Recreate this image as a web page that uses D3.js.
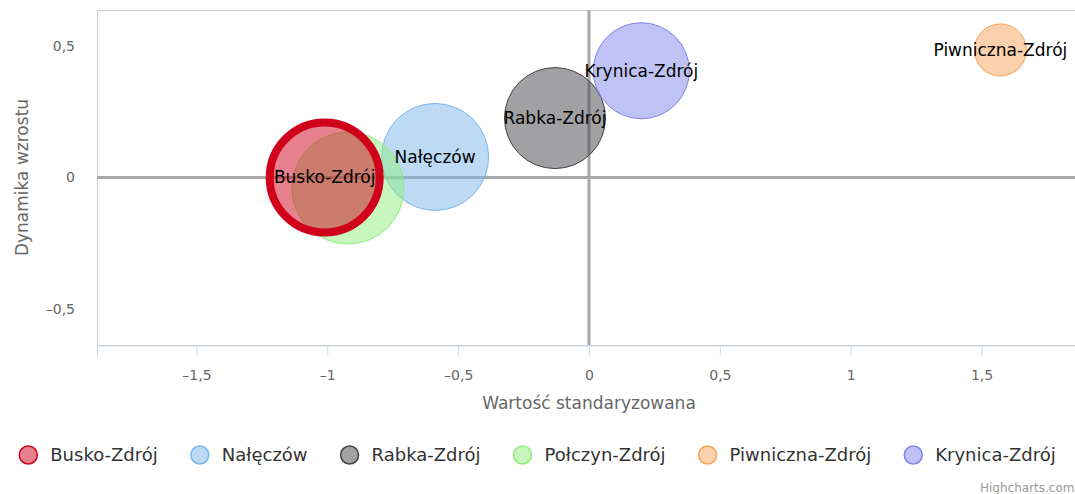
<!DOCTYPE html>
<html>
<head>
<meta charset="utf-8">
<script src="https://d3js.org/d3.v7.min.js"></script>
<style>
  body { margin: 0; background: #fff; }
  svg { display: block; font-family: "DejaVu Sans", Verdana, sans-serif; }
</style>
</head>
<body>
<svg id="chart"></svg>
<script>
// ----------------------------------------
//  Data
// ----------------------------------------

var names   = ['Busko-Zdrój', 'Nałęczów', 'Rabka-Zdrój', 'Połczyn-Zdrój', 'Piwniczna-Zdrój', 'Krynica-Zdrój'];
var xValues = [-1.01, -0.588, -0.130, -0.921, 1.572, 0.20];
var yValues = [0.0, 0.078, 0.226, -0.040, 0.485, 0.406];
var zValues = [96.5, 91.3, 81.3, 100, 21.6, 73.5];
var colors  = ['#d0021b', '#7cb5ec', '#434348', '#90ed7d', '#f7a35c', '#8085e9'];
// Połczyn label is hidden under Busko in the original (overlap), so no label for it
var showLabel = [true, true, true, false, true, true];

var xTicks = [-1.5, -1, -0.5, 0, 0.5, 1, 1.5];
var yTicks = [-0.5, 0, 0.5];

var points = names.map(function(n, i) {
  return { name: n, x: xValues[i], y: yValues[i], z: zValues[i], color: colors[i], idx: i, label: showLabel[i] };
});

// ----------------------------------------
//  Sizing
// ----------------------------------------

var width = 1075, height = 494;
var plot = { left: 97, top: 10, right: 1081, bottom: 345 };

var svg = d3.select('#chart').attr('width', width).attr('height', height);

var x = d3.scaleLinear().domain([-1.88, 1.88]).range([plot.left, plot.right]);
var y = d3.scaleLinear().domain([-0.637, 0.637]).range([plot.bottom, plot.top]);
var r = d3.scaleSqrt().domain([0, 100]).range([0, 56]);

function fmt(v) {
  // polish decimal comma, dash for negatives
  var s = String(Math.abs(v)).replace('.', ',');
  return v < 0 ? '\u2013' + s : s;
}

// ----------------------------------------
//  Plot frame + zero lines
// ----------------------------------------

svg.append('rect')
  .attr('x', plot.left + 0.5).attr('y', plot.top + 0.5)
  .attr('width', plot.right - plot.left).attr('height', plot.bottom - plot.top)
  .attr('fill', 'none').attr('stroke', '#cccccc');

svg.append('line')
  .attr('x1', plot.left).attr('x2', plot.right)
  .attr('y1', y(0)).attr('y2', y(0))
  .attr('stroke', '#a8a8a8').attr('stroke-width', 3);

svg.append('line')
  .attr('x1', x(0)).attr('x2', x(0))
  .attr('y1', plot.top).attr('y2', plot.bottom)
  .attr('stroke', '#a8a8a8').attr('stroke-width', 3);

// x axis
var xAxis = d3.axisBottom(x).tickValues(xTicks).tickSize(10).tickFormat(fmt);
var gx = svg.append('g').attr('transform', 'translate(0,' + (plot.bottom + 0.5) + ')').call(xAxis);
gx.select('.domain').attr('stroke', '#ccd6eb');
gx.selectAll('.tick line').attr('stroke', '#ccd6eb');
gx.selectAll('.tick text').attr('fill', '#666').attr('font-size', 14).attr('dy', '1.55em')
  .attr('font-family', '"DejaVu Sans", sans-serif');

// y axis (labels only)
var yAxis = d3.axisLeft(y).tickValues(yTicks).tickSize(0).tickPadding(22).tickFormat(fmt);
var gy = svg.append('g').attr('transform', 'translate(' + plot.left + ',0)').call(yAxis);
gy.select('.domain').remove();
gy.selectAll('.tick text').attr('fill', '#666').attr('font-size', 14)
  .attr('font-family', '"DejaVu Sans", sans-serif');

// axis titles
svg.append('text')
  .attr('x', (plot.left + plot.right) / 2).attr('y', 409)
  .attr('text-anchor', 'middle').attr('fill', '#666').attr('font-size', 17)
  .text('Wartość standaryzowana');

svg.append('text')
  .attr('transform', 'translate(28,' + ((plot.top + plot.bottom) / 2) + ') rotate(-90)')
  .attr('text-anchor', 'middle').attr('fill', '#666').attr('font-size', 17)
  .text('Dynamika wzrostu');

// ----------------------------------------
//  Bubbles
// ----------------------------------------

// Busko-Zdrój is the selected one, drawn last with the thick ring
var order = points.filter(function(d) { return d.idx !== 0; }).concat([points[0]]);

svg.append('clipPath').attr('id', 'plotclip').append('rect')
  .attr('x', plot.left).attr('y', plot.top)
  .attr('width', plot.right - plot.left).attr('height', plot.bottom - plot.top);

var bubbles = svg.append('g').attr('clip-path', 'url(#plotclip)');

bubbles.selectAll('circle')
  .data(order)
  .enter().append('circle')
  .attr('cx', function(d) { return x(d.x); })
  .attr('cy', function(d) { return y(d.y); })
  .attr('r', function(d) { return r(d.z); })
  .attr('fill', function(d) { return d.color; })
  .attr('fill-opacity', 0.5)
  .attr('stroke', function(d) { return d.color; })
  .attr('stroke-width', function(d) { return d.idx === 0 ? 8 : 1; });

svg.append('g').selectAll('text')
  .data(order.filter(function(d) { return d.label; }))
  .enter().append('text')
  .attr('x', function(d) { return x(d.x); })
  .attr('y', function(d) { return y(d.y); })
  .attr('dy', '0.35em')
  .attr('text-anchor', 'middle')
  .attr('fill', '#000')
  .attr('font-size', 17)
  .text(function(d) { return d.name; });

// ----------------------------------------
//  Legend
// ----------------------------------------

var legend = svg.append('g');
var items = legend.selectAll('g').data(points).enter().append('g');

items.append('circle')
  .attr('r', 9)
  .attr('fill', function(d) { return d.color; })
  .attr('fill-opacity', 0.5)
  .attr('stroke', function(d) { return d.color; })
  .attr('stroke-width', 1.5);

items.append('text')
  .attr('x', 22).attr('dy', '0.35em')
  .attr('fill', '#333').attr('font-size', 18)
  .text(function(d) { return d.name; });

var cx = 0;
items.each(function(d) {
  var w = this.querySelector('text').getComputedTextLength();
  d3.select(this).attr('transform', 'translate(' + cx + ',0)');
  d.legEnd = cx + 22 + w;
  cx = d.legEnd + 42;
});
var span = points[points.length - 1].legEnd + 9;
legend.attr('transform', 'translate(' + (537.5 - span / 2 + 9) + ',455)');

// credits
svg.append('text')
  .attr('x', 980).attr('y', 492)
  .attr('fill', '#999').attr('font-size', 12)
  .text('Highcharts.com');
</script>
</body>
</html>
